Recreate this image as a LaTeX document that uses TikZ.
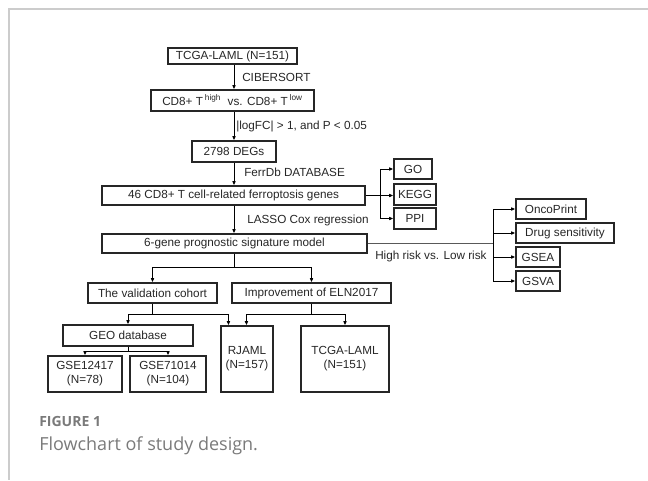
\documentclass[tikz,border=0pt]{standalone}
\usepackage{fontspec}
\setmainfont{Liberation Sans}
\newfontfamily\capfont{Open Sans}
\usetikzlibrary{arrows.meta,calc}
\definecolor{framegray}{HTML}{CCCCCC}
\definecolor{capgray}{HTML}{7A7A7A}
\definecolor{inkc}{HTML}{262626}
\newcommand\bx[6]{\node[box,minimum width={(#4-#2)*0.75pt},minimum height={(#5-#3)*0.75pt}] (#1) at ({(#2+#4)/2},{(#3+#5)/2}) {#6};}
\begin{document}
\begin{tikzpicture}[x=0.75pt,y=-0.75pt,
  box/.style={draw=inkc,line width=0.8pt,inner sep=0pt,align=center,font=\fontsize{8.8}{10.5}\selectfont,text=inkc},
  lbl/.style={inner sep=0pt,anchor=west,font=\fontsize{8.8}{10.5}\selectfont,text=inkc},
  arr/.style={draw=black,line width=0.7pt,-{Latex[length=3.2pt,width=2.8pt]}},
  ln/.style={draw=black,line width=0.7pt}]
\useasboundingbox (0,0) rectangle (648,480);
% frame
\draw[framegray,line width=1pt] (648,9) -- (9,9) -- (9,480);
% coordinates
\coordinate (mx) at (234,0);
\coordinate (bx) at (380,0);
\coordinate (rx) at (493,0);
% boxes
\bx{tcga}{168}{48}{297}{64}{TCGA-LAML (N=151)}
\bx{cd8}{151}{90}{314}{111}{CD8+ T\,\textsuperscript{high}\ \ vs. CD8+ T\,\textsuperscript{low}}
\bx{degs}{192}{141}{276}{162}{2798 DEGs}
\bx{ferro}{102}{186}{365}{205}{46 CD8+ T cell-related ferroptosis genes}
\bx{sig}{102}{234}{367}{253}{6-gene prognostic signature model}
\bx{go}{394}{159}{432}{179}{GO}
\bx{kegg}{394}{184}{436}{205}{KEGG}
\bx{ppi}{394}{208}{436}{229}{PPI}
\bx{onco}{516}{199}{586}{219}{OncoPrint}
\bx{drug}{516}{223}{614}{243}{Drug sensitivity}
\bx{gsea}{516}{247}{560}{267}{GSEA}
\bx{gsva}{516}{271}{560}{291}{GSVA}
\bx{valid}{88}{283}{217}{303}{The validation cohort}
\bx{improve}{232}{283}{391}{303}{Improvement of ELN2017}
\bx{geo}{63}{325}{193}{346}{GEO database}
\bx{gsea1}{48}{356}{122}{392}{GSE12417\\(N=78)}
\bx{gsea2}{130}{356}{206}{392}{GSE71014\\(N=104)}
\bx{rjaml}{221}{326}{273}{392}{RJAML\\(N=157)}
\bx{tcgab}{301}{326}{389}{392}{TCGA-LAML\\(N=151)}
% labels
\node[lbl] (l1) at (242,77) {CIBERSORT};
\node[lbl] (l2) at (236,126) {|logFC| > 1, and P < 0.05};
\node[lbl] (l3) at (244,172) {FerrDb DATABASE};
\node[lbl] (l4) at (247,220) {LASSO Cox regression};
\node[lbl] (l5) at (375,256) {High risk vs. Low risk};
% main chain
\draw[arr] (tcga.south -| mx) -- (cd8.north -| mx);
\draw[arr] (cd8.south -| mx) -- (degs.north -| mx);
\draw[arr] (degs.south -| mx) -- (ferro.north -| mx);
\draw[arr] (ferro.south -| mx) -- (sig.north -| mx);
% ferro branch
\draw[arr] (ferro.east) -- (ferro.east -| kegg.west);
\draw[arr] (ferro.east -| bx) |- (go.west);
\draw[arr] (ferro.east -| bx) |- (ppi.west);
% sig right branch
\draw[draw=black!65,line width=1pt] (sig.east) -- (sig.east -| rx);
\draw[arr] (sig.east -| rx) |- (onco.west);
\draw[arr] (sig.east -| rx) |- (drug.west);
\draw[arr] (sig.east -| rx) |- (gsea.west);
\draw[arr] (sig.east -| rx) |- (gsva.west);
% sig down branch
\draw[arr] (sig.south -| mx) -- ++(0,14) -| (valid.north);
\draw[arr] (sig.south -| mx) -- ++(0,14) -| (improve.north);
% validation
\draw[arr] (valid.south) -- ++(0,11) -| (geo.north);
\draw[arr] (valid.south) -- ++(0,11) -| ([xshift=6pt]rjaml.north west);
% improvement
\draw[arr] (improve.south) -- ++(0,11) -| ([xshift=19.5pt]rjaml.north west);
\draw[arr] (improve.south) -- ++(0,11) -| (tcgab.north);
% geo
\draw[arr] (geo.south) -- ++(0,5) -| (gsea1.north);
\draw[arr] (geo.south) -- ++(0,5) -| (gsea2.north);
% caption
\node[inner sep=0pt,anchor=base west,text=capgray,font=\capfont\bfseries\fontsize{10.5}{12}\selectfont] (fig) at (39,426) {FIGURE 1};
\node[inner sep=0pt,anchor=base west,text=capgray,font=\capfont\fontsize{13.5}{16}\selectfont] (capt) at (39,450) {Flowchart of study design.};
\end{tikzpicture}
\end{document}
